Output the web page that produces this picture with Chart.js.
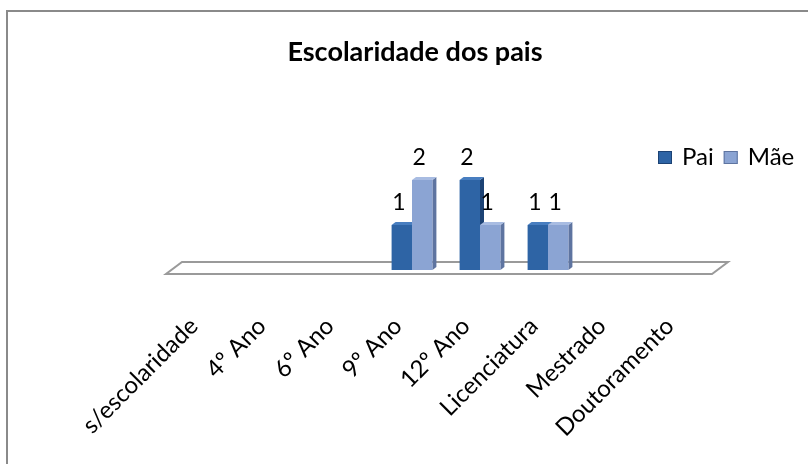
<!DOCTYPE html>
<html>
<head>
<meta charset="utf-8">
<script src="https://cdn.jsdelivr.net/npm/chart.js@4"></script>
<style>
  body { margin: 0; background: #fff; }
</style>
</head>
<body>
<canvas id="escolaridadeChart" width="808" height="464"></canvas>
<script>
const categories = ['s/escolaridade', '4º Ano', '6º Ano', '9º Ano', '12º Ano', 'Licenciatura', 'Mestrado', 'Doutoramento'];
const paiValues = [0, 0, 0, 1, 2, 1, 0, 0];
const maeValues = [0, 0, 0, 2, 1, 1, 0, 0];
const seriesNames = ['Pai', 'Mãe'];
const chartTitle = 'Escolaridade dos pais';

const fontFamily = 'Lato, "Open Sans", sans-serif';

// frame like the excel chart border (only top and left visible) + title
const frame = {
  id: 'frame',
  beforeDraw(chart) {
    const ctx = chart.ctx;
    ctx.save();
    ctx.fillStyle = '#fff';
    ctx.fillRect(0, 0, chart.width, chart.height);
    ctx.strokeStyle = '#8a8a8a';
    ctx.lineWidth = 2;
    ctx.beginPath();
    ctx.moveTo(7, chart.height);
    ctx.lineTo(7, 11);
    ctx.lineTo(chart.width, 11);
    ctx.stroke();

    ctx.font = 'bold 27px ' + fontFamily;
    ctx.fillStyle = '#000';
    ctx.textAlign = 'center';
    ctx.textBaseline = 'middle';
    ctx.fillText(chartTitle, 415, 52);
    ctx.restore();
  }
};

// floor + side/top faces, drawn before the fronts so fronts cover them
const depth3d = {
  id: 'depth3d',
  beforeDatasetsDraw(chart) {
    const ctx = chart.ctx;
    const area = chart.chartArea;
    const y0 = chart.scales.y.getPixelForValue(0);
    ctx.save();
    // floor
    ctx.beginPath();
    ctx.moveTo(area.left - 8, y0 + 4);
    ctx.lineTo(area.right - 6, y0 + 4);
    ctx.lineTo(area.right + 10, y0 - 8);
    ctx.lineTo(area.left + 8, y0 - 8);
    ctx.closePath();
    ctx.fillStyle = '#fff';
    ctx.fill();
    ctx.strokeStyle = '#9a9a9a';
    ctx.lineWidth = 2;
    ctx.stroke();

    const dx = 4, dy = 3;
    chart.data.datasets.forEach((ds, d) => {
      chart.getDatasetMeta(d).data.forEach((bar, i) => {
        if (!ds.data[i]) return;
        const { x, y, width, base } = bar.getProps(['x', 'y', 'width', 'base'], true);
        const l = x - width / 2, r = x + width / 2;
        ctx.fillStyle = ds.sideColor;
        ctx.beginPath();
        ctx.moveTo(r, y); ctx.lineTo(r + dx, y - dy); ctx.lineTo(r + dx, base - dy); ctx.lineTo(r, base);
        ctx.closePath(); ctx.fill();
        ctx.fillStyle = ds.topColor;
        ctx.beginPath();
        ctx.moveTo(l, y); ctx.lineTo(l + dx, y - dy); ctx.lineTo(r + dx, y - dy); ctx.lineTo(r, y);
        ctx.closePath(); ctx.fill();
      });
    });
    ctx.restore();
  }
};

// value labels above the bars
const valueLabels = {
  id: 'valueLabels',
  afterDatasetsDraw(chart) {
    const ctx = chart.ctx;
    ctx.save();
    ctx.font = '23px ' + fontFamily;
    ctx.fillStyle = '#000';
    ctx.textAlign = 'center';
    ctx.textBaseline = 'bottom';
    chart.data.datasets.forEach((ds, d) => {
      chart.getDatasetMeta(d).data.forEach((bar, i) => {
        if (!ds.data[i]) return;
        ctx.fillText(String(ds.data[i]), bar.x - 3, bar.y - 11);
      });
    });
    ctx.restore();
  }
};

// legend in one row, right side
const legendRow = {
  id: 'legendRow',
  afterDraw(chart) {
    const ctx = chart.ctx;
    let x = 658;
    const y = 157;
    ctx.save();
    ctx.font = '24px ' + fontFamily;
    ctx.textBaseline = 'middle';
    ctx.textAlign = 'left';
    chart.data.datasets.forEach(ds => {
      ctx.fillStyle = ds.backgroundColor;
      ctx.fillRect(x, y - 6, 14, 13);
      ctx.strokeStyle = ds.sideColor;
      ctx.lineWidth = 1;
      ctx.strokeRect(x + 0.5, y - 5.5, 13, 12);
      ctx.fillStyle = '#000';
      ctx.fillText(ds.label, x + 24, y);
      x += 24 + ctx.measureText(ds.label).width + 10;
    });
    ctx.restore();
  }
};

new Chart('escolaridadeChart', {
  type: 'bar',
  data: {
    labels: categories,
    datasets: [
      {
        label: seriesNames[0],
        data: paiValues,
        backgroundColor: 'rgb(46, 100, 165)',
        sideColor: 'rgb(28, 66, 116)',
        topColor: 'rgb(72, 126, 192)'
      },
      {
        label: seriesNames[1],
        data: maeValues,
        backgroundColor: 'rgb(139, 164, 211)',
        sideColor: 'rgb(94, 116, 160)',
        topColor: 'rgb(168, 188, 226)'
      }
    ]
  },
  options: {
    responsive: false,
    animation: false,
    categoryPercentage: 0.6,
    barPercentage: 1.0,
    layout: { padding: { left: 174, right: 90, top: 157.5, bottom: 0 } },
    plugins: {
      legend: { display: false },
      tooltip: { enabled: false },
      title: { display: false }
    },
    scales: {
      x: {
        grid: { display: false },
        border: { display: false },
        ticks: {
          color: '#000',
          font: { family: fontFamily, size: 24 },
          minRotation: 45,
          maxRotation: 45,
          autoSkip: false,
          padding: 34,
          labelOffset: -14
        },
        afterFit(scale) { scale.height = 194; }
      },
      y: {
        display: false,
        min: 0,
        max: 2.5
      }
    }
  },
  plugins: [frame, depth3d, valueLabels, legendRow]
});
</script>
</body>
</html>
